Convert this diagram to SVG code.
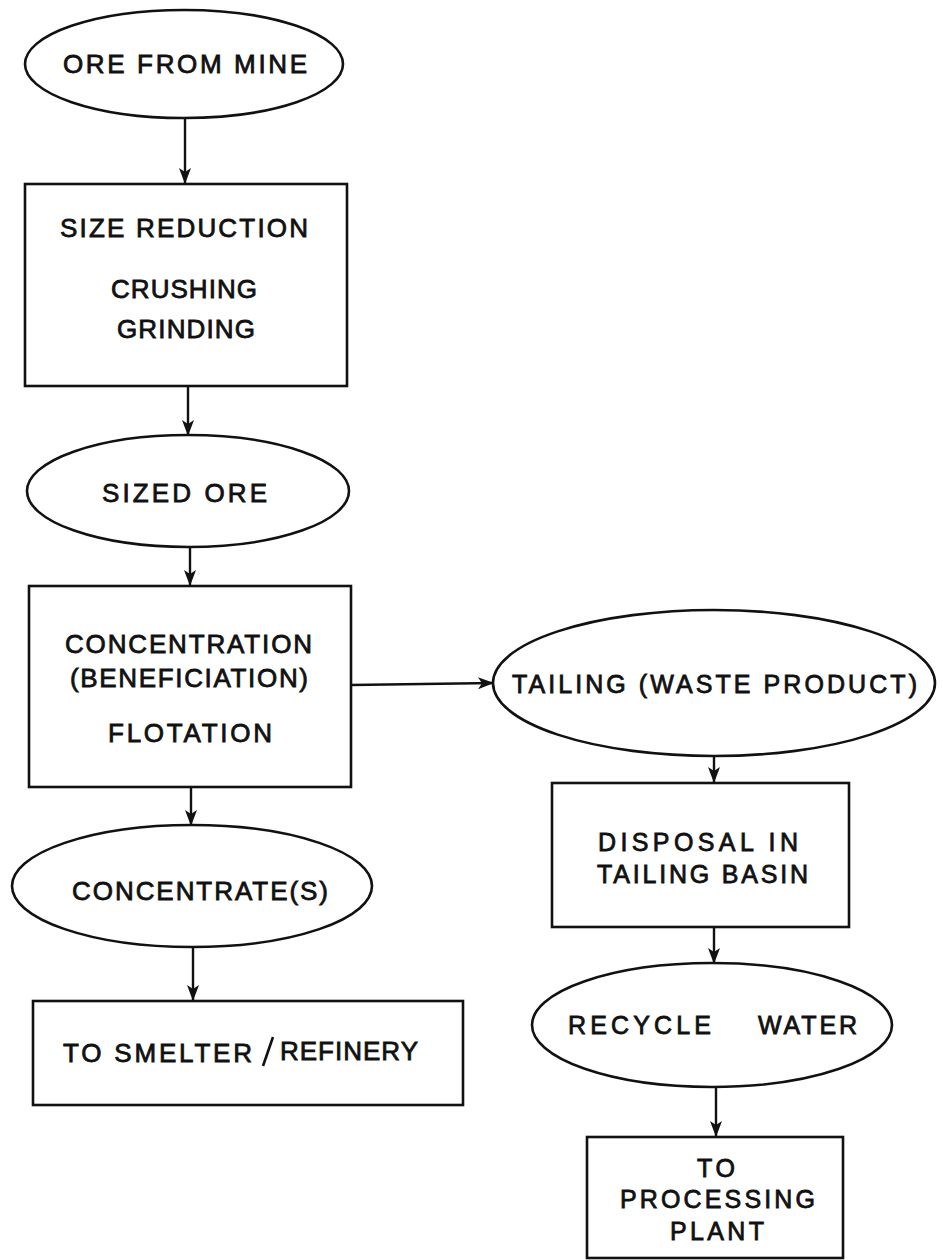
<svg xmlns="http://www.w3.org/2000/svg" width="943" height="1260" viewBox="0 0 943 1260">
<defs>
<style>
.n{fill:#fff;stroke:#111;stroke-width:2.6}
.t{font-family:"Liberation Sans",Arial,sans-serif;font-size:26px;fill:#111;stroke:#111;stroke-width:0.8}
.s{font-size:25px}
.c{fill:none;stroke:#111;stroke-width:2.4}
</style>
<marker id="ah" markerUnits="userSpaceOnUse" markerWidth="18" markerHeight="14" refX="16" refY="6" orient="auto">
<path d="M0,0 L16,6 L0,12 L4,6 z" fill="#111"/>
</marker>
</defs>
<rect width="943" height="1260" fill="#fff"/>
<g id="connectors">
<line class="c" x1="185" y1="118" x2="185" y2="184" marker-end="url(#ah)"/>
<line class="c" x1="188" y1="387" x2="188" y2="436" marker-end="url(#ah)"/>
<line class="c" x1="190" y1="547" x2="190" y2="586" marker-end="url(#ah)"/>
<line class="c" x1="351" y1="685" x2="494" y2="683" marker-end="url(#ah)"/>
<line class="c" x1="191" y1="787" x2="191" y2="826" marker-end="url(#ah)"/>
<line class="c" x1="193" y1="947" x2="193" y2="1001" marker-end="url(#ah)"/>
<line class="c" x1="714" y1="756" x2="714" y2="783" marker-end="url(#ah)"/>
<line class="c" x1="714" y1="927" x2="714" y2="964" marker-end="url(#ah)"/>
<line class="c" x1="716" y1="1087" x2="716" y2="1137" marker-end="url(#ah)"/>
</g>
<g id="ore_from_mine">
<ellipse class="n" cx="184" cy="64" rx="159" ry="54"/>
<text class="t" x="63" y="73" textLength="244" lengthAdjust="spacing">ORE FROM MINE</text>
</g>
<g id="size_reduction">
<rect class="n" x="25" y="184" width="322" height="202"/>
<text class="t" x="60" y="237" textLength="248" lengthAdjust="spacing">SIZE REDUCTION</text>
<text class="t" x="111" y="298" textLength="146" lengthAdjust="spacing">CRUSHING</text>
<text class="t" x="117" y="338" textLength="138" lengthAdjust="spacing">GRINDING</text>
</g>
<g id="sized_ore">
<ellipse class="n" cx="188" cy="491" rx="161" ry="56"/>
<text class="t" x="102" y="502" textLength="165" lengthAdjust="spacing">SIZED ORE</text>
</g>
<g id="concentration">
<rect class="n" x="29" y="586" width="322" height="201"/>
<text class="t" x="65" y="653" textLength="247" lengthAdjust="spacing">CONCENTRATION</text>
<text class="t" x="70" y="687" textLength="238" lengthAdjust="spacing">(BENEFICIATION)</text>
<text class="t" x="108" y="742" textLength="164" lengthAdjust="spacing">FLOTATION</text>
</g>
<g id="concentrates">
<ellipse class="n" cx="192" cy="886" rx="180" ry="61"/>
<text class="t" x="72" y="900" textLength="256" lengthAdjust="spacing">CONCENTRATE(S)</text>
</g>
<g id="to_smelter">
<rect class="n" x="33" y="1001" width="430" height="104"/>
<text class="t" x="63" y="1062" textLength="189" lengthAdjust="spacing">TO SMELTER</text>
<line x1="263" y1="1066" x2="273" y2="1037" stroke="#111" stroke-width="2.6"/>
<text class="t" x="280" y="1060" textLength="138" lengthAdjust="spacing">REFINERY</text>
</g>
<g id="tailing">
<ellipse class="n" cx="714" cy="683" rx="221" ry="73"/>
<text class="t s" x="512" y="693" textLength="405" lengthAdjust="spacing">TAILING (WASTE PRODUCT)</text>
</g>
<g id="disposal">
<rect class="n" x="552" y="783" width="297" height="144"/>
<text class="t s" x="598" y="851" textLength="200" lengthAdjust="spacing">DISPOSAL IN</text>
<text class="t s" x="597" y="883" textLength="211" lengthAdjust="spacing">TAILING BASIN</text>
</g>
<g id="recycle_water">
<ellipse class="n" cx="712" cy="1025" rx="180" ry="62"/>
<text class="t s" x="568" y="1034" textLength="143" lengthAdjust="spacing">RECYCLE</text>
<text class="t s" x="758" y="1034" textLength="99" lengthAdjust="spacing">WATER</text>
</g>
<g id="to_processing_plant">
<rect class="n" x="587" y="1137" width="256" height="121"/>
<text class="t s" x="697" y="1177" textLength="38" lengthAdjust="spacing">TO</text>
<text class="t s" x="620" y="1208" textLength="195" lengthAdjust="spacing">PROCESSING</text>
<text class="t s" x="670" y="1240" textLength="94" lengthAdjust="spacing">PLANT</text>
</g>
</svg>
